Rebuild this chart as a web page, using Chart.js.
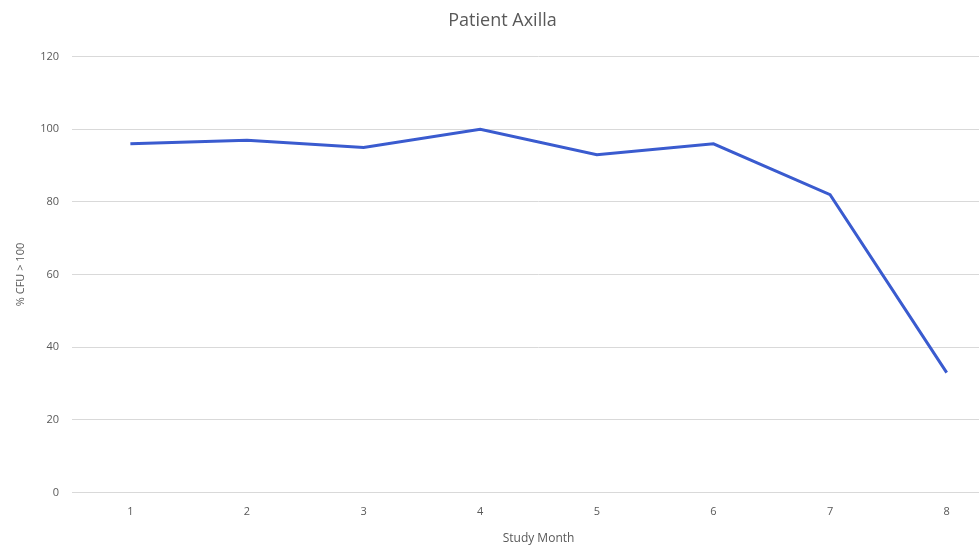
<!DOCTYPE html>
<html>
<head>
<meta charset="utf-8">
<script src="https://cdn.jsdelivr.net/npm/chart.js@4"></script>
<style>
  html, body { margin: 0; padding: 0; background: #ffffff; overflow: hidden; }
  #wrap { width: 1005px; height: 545px; }
</style>
</head>
<body>
<div id="wrap"><canvas id="c" width="1005" height="545"></canvas></div>
<script>
// Study months along the x axis
const months = ['1', '2', '3', '4', '5', '6', '7', '8'];
// Share of samples with CFU above 100, in percent
const pctCfuOver100 = [96, 97, 95, 100, 93, 96, 82, 33];
// Value axis ticks
const yTicks = [0, 20, 40, 60, 80, 100, 120];

const grey = '#595959';
const fontFamily = "'Open Sans', 'Liberation Sans', sans-serif";

new Chart(document.getElementById('c'), {
  type: 'line',
  data: {
    labels: months,
    datasets: [{
      label: 'Patient Axilla',
      data: pctCfuOver100,
      borderColor: '#3a5bcf',
      borderWidth: 3,
      pointRadius: 0,
      tension: 0,
      fill: false
    }]
  },
  options: {
    responsive: false,
    animation: false,
    layout: { padding: { top: 10, left: 0, right: 0, bottom: -1 } },
    plugins: {
      legend: { display: false },
      tooltip: { enabled: false },
      title: {
        display: true,
        text: 'Patient Axilla',
        color: grey,
        font: { family: fontFamily, size: 18, weight: 'normal' },
        padding: { top: 0, bottom: 25 }
      }
    },
    scales: {
      x: {
        offset: true,
        grid: { display: false, drawTicks: false },
        border: { display: true, color: '#d9d9d9', width: 1 },
        ticks: { color: grey, font: { family: fontFamily, size: 11 }, padding: 13 },
        title: {
          display: true,
          text: 'Study Month',
          color: grey,
          font: { family: fontFamily, size: 12 },
          padding: { top: 0, bottom: 0 }
        }
      },
      y: {
        min: 0,
        max: 120,
        afterBuildTicks: (scale) => { scale.ticks = yTicks.map(v => ({ value: v })); },
        grid: { color: '#d9d9d9', lineWidth: 1, drawTicks: false },
        border: { display: false },
        ticks: { color: grey, font: { family: fontFamily, size: 11 }, padding: 13 },
        title: {
          display: true,
          text: '% CFU > 100',
          color: grey,
          font: { family: fontFamily, size: 11 },
          padding: { top: 14, bottom: 0 }
        }
      }
    }
  }
});
</script>
</body>
</html>
